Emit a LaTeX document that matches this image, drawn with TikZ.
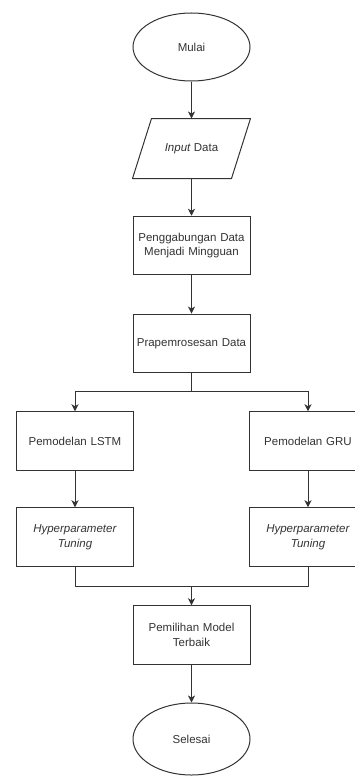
\documentclass[tikz,border=0pt]{standalone}
\usepackage{fontspec}
\setsansfont{Liberation Sans}
\usepackage{tikz}
\usetikzlibrary{arrows.meta,shapes.geometric}
\definecolor{garis}{HTML}{333333}
\tikzset{
  flownode/.style = {align=center, inner sep=0pt, text centered, draw=garis,
    line width=1pt, text=garis,
    font=\sffamily\fontsize{11.5}{14.5}\selectfont},
  terminal/.style = {flownode, ellipse, minimum width=117pt,
    minimum height=68pt},% mulai / selesai
  io/.style = {flownode, rectangle, draw=none,
    minimum width=117pt, minimum height=59pt},% input, sisi miring digambar terpisah
  proses/.style = {flownode, rectangle, minimum width=117pt,
    minimum height=58.5pt, text width=110pt},% langkah proses
  panah/.style = {draw=garis, line width=1pt,
    -{Stealth[length=7pt,width=7pt,inset=2pt]}},
  garisan/.style = {draw=garis, line width=1pt, line join=round}
}

\begin{document}
\begin{tikzpicture}[x=1pt, y=-1pt]
	\useasboundingbox (0,0) rectangle (355,776);
	% jalur utama
	\node [terminal] (mulai) at (191.5,47) {Mulai};
	\node [io] (masukan) at (191.5,148.5) {\textit{Input} Data};
	\draw [garisan] ([xshift=19pt]masukan.north west) -- (masukan.north east)
		-- ([xshift=-19pt]masukan.south east) -- (masukan.south west) -- cycle;
	\node [proses] (gabung) at (191.5,245.5) {Penggabungan Data\\Menjadi Mingguan};
	\node [proses] (prapros) at (191.5,343.3) {Prapemrosesan Data};
	% dua cabang model
	\node [proses] (lstm) at (75,441) {Pemodelan LSTM};
	\node [proses] (gru) at (308,441) {Pemodelan GRU};
	\node [proses] (tuneL) at (75,537) {\textit{Hyperparameter}\\\textit{Tuning}};
	\node [proses] (tuneR) at (308,537) {\textit{Hyperparameter}\\\textit{Tuning}};
	\node [proses] (pilih) at (191.5,635) {Pemilihan Model\\Terbaik};
	\node [terminal, minimum height=72pt] (selesai) at (191.5,739) {Selesai};
	\coordinate (cabang) at (191.5,391.7);
	\coordinate (temu) at (191.5,586);

	\draw [panah] (mulai) -- (masukan);
	\draw [panah] (masukan) -- (gabung);
	\draw [panah] (gabung) -- (prapros);
	\draw [garisan] (prapros) -- (cabang);
	\draw [panah] (cabang) -| (lstm);
	\draw [panah] (cabang) -| (gru);
	\draw [panah] (lstm) -- (tuneL);
	\draw [panah] (gru) -- (tuneR);
	\draw [garisan] (tuneL) |- (temu);
	\draw [garisan] (tuneR) |- (temu);
	\draw [panah] (temu) -- (pilih);
	\draw [panah] (pilih) -- (selesai);
\end{tikzpicture}
\end{document}
